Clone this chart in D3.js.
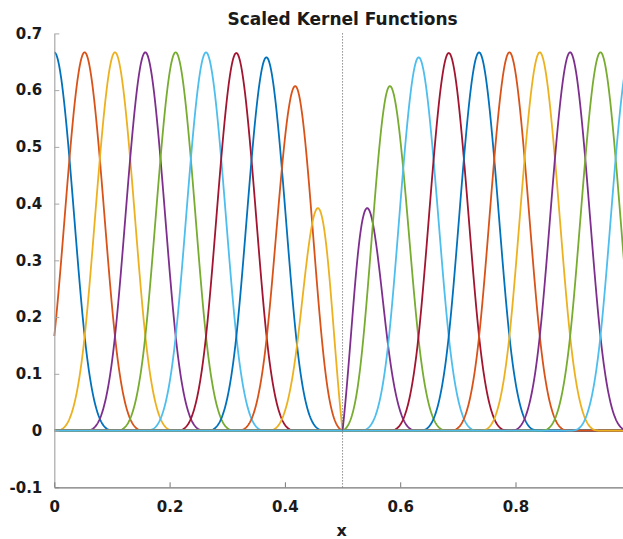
<!DOCTYPE html>
<html>
<head>
<meta charset="utf-8">
<script src="https://cdn.jsdelivr.net/npm/d3@7"></script>
<style>
  html, body { margin: 0; padding: 0; background: #fff; }
  svg { display: block; }
  text { font-family: "DejaVu Sans", sans-serif; font-weight: bold; fill: #1a1a1a; }
</style>
</head>
<body>
<svg id="chart" width="623" height="539"></svg>
<script>
// ---- data ----
const centers = [0, 0.0526, 0.1053, 0.1579, 0.2105, 0.2632, 0.3158, 0.3684, 0.4211, 0.4737,
                 0.5263, 0.5789, 0.6316, 0.6842, 0.7368, 0.7895, 0.8421, 0.8947, 0.9474, 1.0];
const bandwidth = 0.0526;        // kernel spacing h
const interfaceX = 0.5;          // discontinuity (dotted line)
const xDomain = [0, 1];
const yDomain = [-0.1, 0.7];
const xTicks = [0, 0.2, 0.4, 0.6, 0.8];
const yTicks = [-0.1, 0, 0.1, 0.2, 0.3, 0.4, 0.5, 0.6, 0.7];
const colors = ["#0072BD", "#D95319", "#EDB120", "#7E2F8E", "#77AC30", "#4DBEEE", "#A2142F"];
const titleText = "Scaled Kernel Functions";
const xLabel = "x";

// cubic B-spline kernel
function bspline(t) {
  const a = Math.abs(t);
  if (a < 1) return 2 / 3 - a * a + a * a * a / 2;
  if (a < 2) return Math.pow(2 - a, 3) / 6;
  return 0;
}
function scaledKernel(x, c) {
  const sameSide = (c < interfaceX) === (x <= interfaceX) || (c > interfaceX && x >= interfaceX);
  if (!sameSide) return 0;
  return bspline((x - c) / bandwidth) * Math.tanh(Math.abs(x - interfaceX) / bandwidth);
}

const svg = d3.select("#chart");
const x = d3.scaleLinear().domain(xDomain).range([54.3, 630.8]);
const y = d3.scaleLinear().domain(yDomain).range([487.3, 33.4]);

const fmt = d => String(+d.toFixed(1));

// sample grid
const xs = d3.range(0, 1.0001, 0.001);

const line = d3.line().x(d => x(d[0])).y(d => y(d[1]));

const g = svg.append("g");
centers.forEach((c, i) => {
  const pts = xs.map(v => [v, scaledKernel(v, c)]);
  g.append("path")
    .datum(pts)
    .attr("fill", "none")
    .attr("stroke", colors[i % colors.length])
    .attr("stroke-width", 1.8)
    .attr("stroke-linejoin", "round")
    .attr("d", line);
});

// dotted interface line
svg.append("line")
  .attr("x1", x(interfaceX)).attr("x2", x(interfaceX))
  .attr("y1", y(yDomain[1])).attr("y2", y(yDomain[0]))
  .attr("stroke", "#555")
  .attr("stroke-width", 1)
  .attr("stroke-dasharray", "1,2");

// axes
const yAxis = d3.axisLeft(y).tickValues(yTicks).tickFormat(fmt).tickSizeInner(-5).tickSizeOuter(0).tickPadding(12);
const gy = svg.append("g").attr("transform", `translate(${x(0)},0)`).call(yAxis);
gy.select(".domain").attr("stroke", "#a8a8a8").attr("stroke-width", 1.2);
gy.selectAll(".tick line").attr("stroke", "#a8a8a8");
gy.selectAll(".tick text").attr("font-size", 15).attr("font-family", null).attr("fill", "#1a1a1a");

const xAxis = d3.axisBottom(x).tickValues(xTicks).tickFormat(fmt).tickSizeInner(-5).tickSizeOuter(0).tickPadding(14);
const gx = svg.append("g").attr("transform", `translate(0,${y(yDomain[0])})`).call(xAxis);
gx.select(".domain").attr("stroke", "#777").attr("stroke-width", 1.2);
gx.selectAll(".tick line").attr("stroke", "#777");
gx.selectAll(".tick text").attr("font-size", 15).attr("font-family", null).attr("fill", "#1a1a1a");

// title
svg.append("text")
  .attr("x", (x(0) + x(1)) / 2).attr("y", 25)
  .attr("text-anchor", "middle")
  .attr("font-size", 17)
  .text(titleText);

// x label
svg.append("text")
  .attr("x", 341.7).attr("y", 536)
  .attr("text-anchor", "middle")
  .attr("font-size", 16)
  .text(xLabel);
</script>
</body>
</html>
